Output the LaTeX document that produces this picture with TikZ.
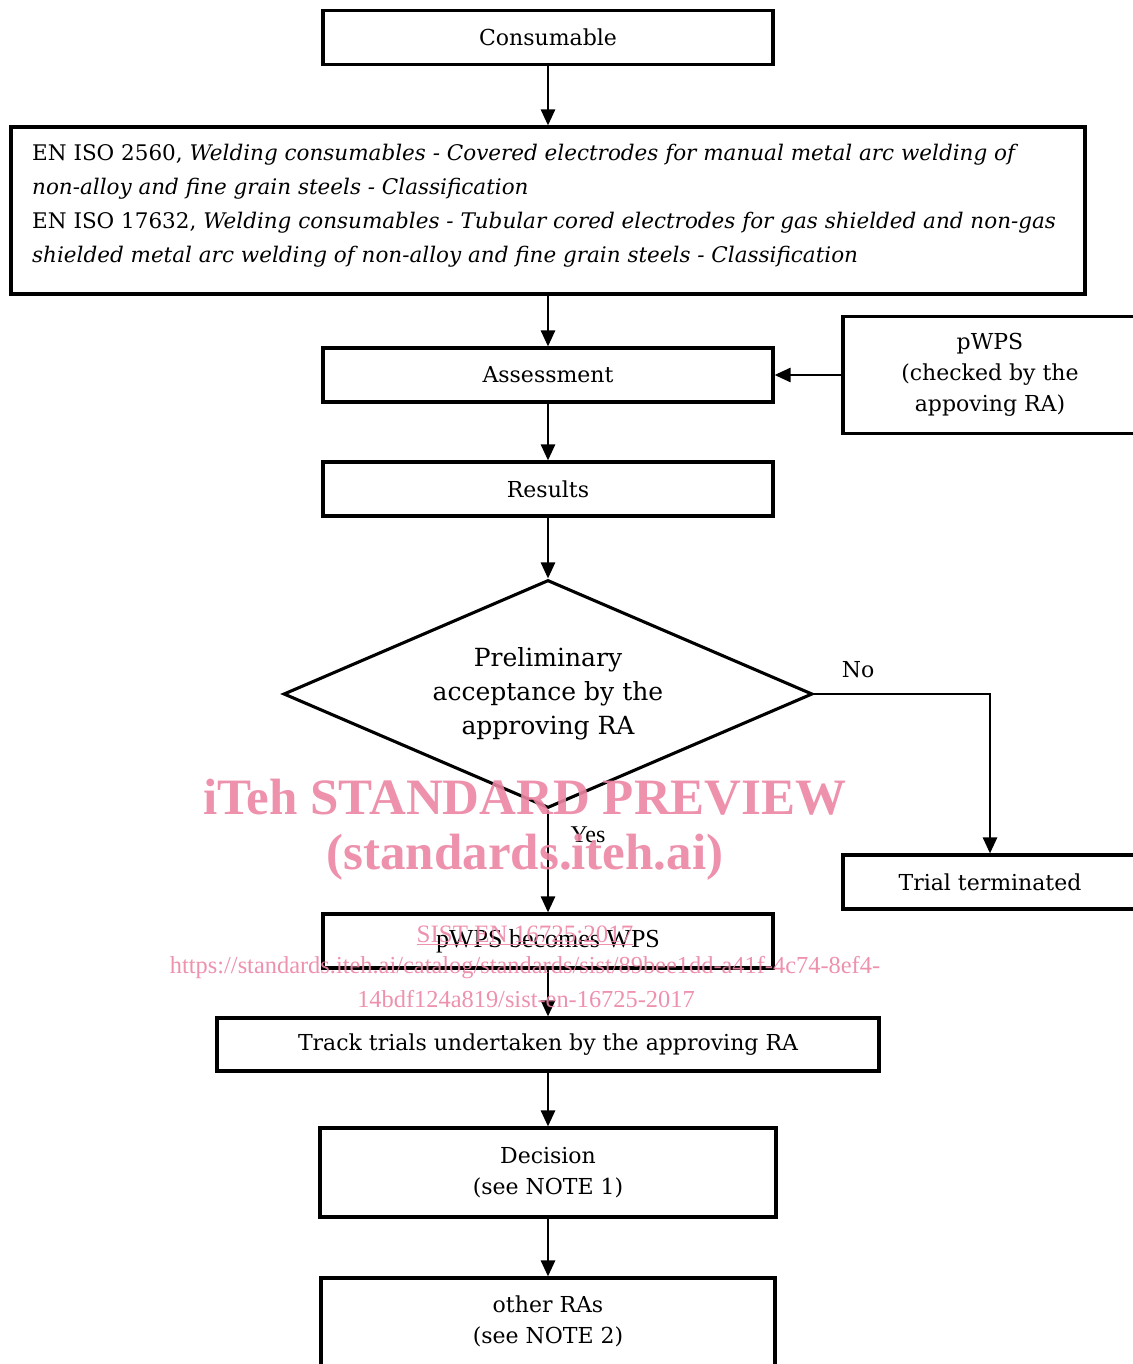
\documentclass[tikz,border=0pt]{standalone}
\usepackage{fontspec}
\setmainfont{DejaVu Serif}
\newfontfamily\timesf{Liberation Serif}
\usetikzlibrary{arrows.meta,shapes.geometric}
\definecolor{wmpink}{RGB}{236,133,164}
\begin{document}
\begin{tikzpicture}[x=1pt,y=-1pt,
  box/.style={draw, line width=3.1pt, inner sep=0pt, align=center,
    font=\fontsize{22}{31}\selectfont},
  arr/.style={-{Triangle[length=16pt,width=14pt]}, line width=2.6pt},
  lbl/.style={inner sep=0pt, font=\fontsize{22}{31}\selectfont},
  wm/.style={inner sep=0pt, text=wmpink, text opacity=0.9, align=center}]
\useasboundingbox (0,0) rectangle (1132,1364);

\node[box, minimum width=450pt, minimum height=54pt] (cons) at (548,37.5) {Consumable};

\node[box, minimum width=1074pt, minimum height=167pt] (iso) at (548,210.5) {};
\node[lbl, anchor=west, align=left, font=\fontsize{21.5}{34}\selectfont] (isot) at (32,205.5)
  {EN ISO 2560, \textit{Welding consumables - Covered electrodes for manual metal arc welding of}\\
   \textit{non-alloy and fine grain steels - Classification}\\
   EN ISO 17632, \textit{Welding consumables - Tubular cored electrodes for gas shielded and non-gas}\\
   \textit{shielded metal arc welding of non-alloy and fine grain steels - Classification}};

\node[box, minimum width=450pt, minimum height=54pt] (assess) at (548,375) {Assessment};
\node[box, minimum width=294pt, minimum height=117pt] (pwps) at (990,375)
  {pWPS\\(checked by the\\appoving RA)};
\node[box, minimum width=450pt, minimum height=54pt] (results) at (548,489) {Results};

\node[draw, line width=3.1pt, shape=diamond, aspect=2.32, inner sep=0pt,
  minimum width=529pt, minimum height=228pt, align=center,
  font=\fontsize{25}{34}\selectfont] (dec) at (548,694)
  {Preliminary\\acceptance by the\\approving RA};

\node[box, minimum width=294pt, minimum height=54pt] (trial) at (990,882) {Trial terminated};
\node[lbl] (no) at (858,670) {No};
\node[inner sep=0pt, font=\timesf\fontsize{24}{24}\selectfont] (yes) at (588,835) {Yes};

\node[box, minimum width=450pt, minimum height=54pt, font=\timesf\fontsize{26}{26}\selectfont]
  (wps) at (548,941) {pWPS becomes WPS};
\node[box, minimum width=662pt, minimum height=53pt] (track) at (548,1044.5)
  {Track trials undertaken by the approving RA};
\node[box, minimum width=456pt, minimum height=89pt] (decision) at (548,1172.5)
  {Decision\\(see NOTE 1)};
\node[box, minimum width=454pt, minimum height=98pt] (other) at (548,1327) {};
\node[lbl, align=center] (othert) at (548,1321.5) {other RAs\\(see NOTE 2)};

\draw[arr] (cons.south) -- (iso.north);
\draw[arr] (iso.south) -- (assess.north);
\draw[arr] (pwps.west) -- (assess.east);
\draw[arr] (assess.south) -- (results.north);
\draw[arr] (results.south) -- (dec.north);
\draw[arr] (dec.east) -| (trial.north);
\draw[arr] (dec.south) -- (wps.north);
\draw[arr] (wps.south) -- (track.north);
\draw[arr] (track.south) -- (decision.north);
\draw[arr] (decision.south) -- (other.north);

\node[wm, font=\timesf\bfseries\fontsize{51}{51}\selectfont] (wm1) at (525,797) {iTeh STANDARD PREVIEW};
\node[wm, font=\timesf\bfseries\fontsize{51}{51}\selectfont] (wm2) at (525,857) {(standards.iteh.ai)};
\node[wm, font=\timesf\fontsize{25}{25}\selectfont] (wm3) at (525,935) {\underline{SIST EN 16725:2017}};
\node[wm, font=\timesf\fontsize{24.4}{24.4}\selectfont] (wm4) at (525,968)
  {https://standards.iteh.ai/catalog/standards/sist/89bee1dd-a41f-4c74-8ef4-};
\node[wm, font=\timesf\fontsize{24.4}{24.4}\selectfont] (wm5) at (526,999)
  {14bdf124a819/sist-en-16725-2017};
\end{tikzpicture}
\end{document}
